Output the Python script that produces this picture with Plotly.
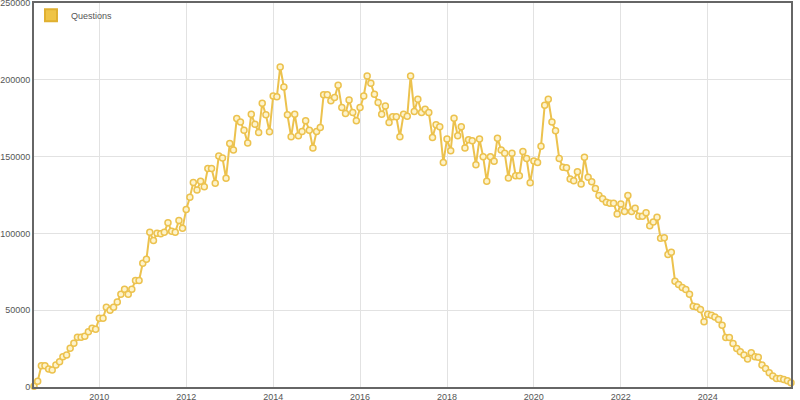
import pandas as pd
import plotly.graph_objects as go

start_month = "2008-07-01"
series_name = "Questions"
questions = [
    500, 3800, 13800, 13800, 11700, 11000, 14300, 16400, 19700, 20800,
    25300, 28500, 32400, 32400, 33000, 35900, 38300, 37600, 44800, 44800,
    51900, 50000, 51900, 55400, 60400, 63600, 60400, 63600, 69400, 69400,
    80500, 83100, 100800, 95400, 100100, 99700, 100800, 106900, 101400, 100800,
    108400, 103400, 115500, 123500, 133200, 128300, 133900, 130400, 142300, 142300,
    132600, 150400, 149100, 135900, 158600, 154300, 174800, 172600, 167200, 158800,
    177600, 171100, 165700, 184800, 177200, 166100, 189500, 188900, 208300, 195300,
    177200, 162900, 177600, 163600, 166400, 173300, 167200, 155600, 166400, 168900,
    190200, 190200, 186300, 188400, 196400, 181900, 178000, 186900, 178700, 173300,
    181900, 189500, 202500, 197700, 190600, 185200, 177600, 183000, 172200, 175900,
    175900, 162900, 177600, 176200, 202500, 179400, 187300, 178700, 180900, 178700,
    162500, 170700, 169400, 146200, 161400, 153800, 175000, 163600, 169400, 155600,
    160900, 160300, 144700, 161400, 149900, 133900, 149900, 146900, 162000, 154300,
    152100, 136100, 152100, 137600, 137600, 153400, 148700, 133000, 147100, 146200,
    156800, 183500, 187300, 172600, 166800, 148800, 143000, 142800, 135400, 134300,
    140200, 132200, 149500, 136500, 133700, 129300, 124600, 122500, 120300, 119600,
    119600, 112700, 119200, 114200, 124600, 114200, 116400, 111200, 111200, 113400,
    104900, 107400, 110500, 96800, 97100, 86300, 87800, 68900, 66800, 64700,
    63400, 60400, 52600, 52100, 50400, 42400, 47400, 46700, 45600, 43900,
    40200, 32300, 32300, 28400, 25100, 22900, 20800, 18200, 22300, 19700,
    19300, 14300, 12100, 9300, 7100, 5600, 5600, 4900, 4100, 2800,
]
x_tick_years = ["2010", "2012", "2014", "2016", "2018", "2020", "2022", "2024"]
y_ticks = [0, 50000, 100000, 150000, 200000, 250000]

months = pd.date_range(start_month, periods=len(questions), freq="MS")

LINE = "#ecc24e"
FILL = "#fdf3cc"

fig = go.Figure()
fig.add_trace(go.Scatter(
    x=months, y=questions, mode="lines+markers", name=series_name,
    line=dict(color=LINE, width=2),
    marker=dict(size=6, color=FILL, line=dict(color=LINE, width=1.5)),
    cliponaxis=False, showlegend=False,
))
# legend swatch (filled box like the reference)
fig.add_trace(go.Bar(
    x=[None], y=[None], name=series_name,
    marker=dict(color="#efc447", line=dict(color="#e0b030", width=1)),
    showlegend=True,
))

tickvals = [pd.Timestamp(f"{y}-01-01") for y in x_tick_years]

fig.update_layout(
    width=800, height=400,
    margin=dict(l=34, r=9, t=1, b=13),
    paper_bgcolor="white", plot_bgcolor="white",
    font=dict(family="Liberation Sans, Arial, sans-serif", size=9, color="#555"),
    legend=dict(x=-0.004, y=1.006, xanchor="left", yanchor="top",
                bgcolor="rgba(0,0,0,0)", font=dict(size=9, color="#555"),
                itemsizing="constant"),
    xaxis=dict(
        range=[months[0], months[-1]],
        tickvals=tickvals, ticktext=x_tick_years,
        showgrid=True, gridcolor="#e2e2e2", gridwidth=1,
        showline=True, linecolor="#666", linewidth=1.5, mirror=True,
        ticks="", zeroline=False, automargin=False,
    ),
    yaxis=dict(
        range=[0, 250000],
        tickvals=y_ticks, ticktext=[str(v) for v in y_ticks],
        showgrid=True, gridcolor="#e2e2e2", gridwidth=1,
        showline=True, linecolor="#666", linewidth=2, mirror=True,
        ticks="", zeroline=False, automargin=False,
        ticklabeloverflow="allow",
    ),
    bargap=0,
)

fig.write_html(
    "out.html",
    config={"displayModeBar": False},
    post_script="document.body.style.margin='0';document.body.style.overflow='hidden';",
)
